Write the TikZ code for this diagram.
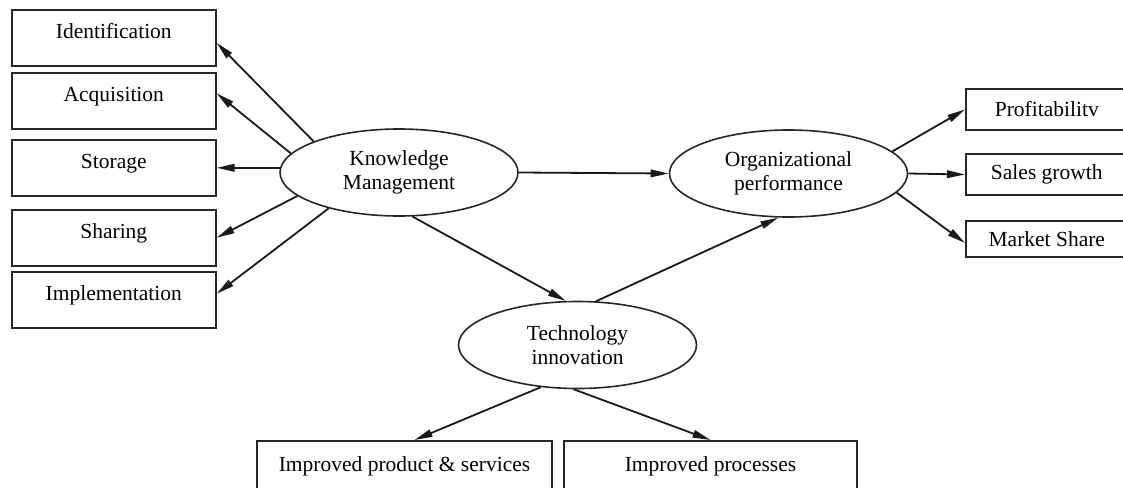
\documentclass[tikz,border=0pt]{standalone}
\usepackage{fontspec}
\setmainfont{Liberation Serif}
\usetikzlibrary{arrows.meta,shapes.geometric}
\begin{document}
\begin{tikzpicture}[x=1pt,y=-1pt,
  txt/.style={font=\fontsize{21.5}{23.5}\selectfont},
  lbox/.style={txt,draw=black!85,line width=1.6pt,rectangle,inner sep=0pt,
    minimum width=204pt,text height=29pt,text depth=27pt,anchor=north west},
  rbox/.style={txt,draw=black!85,line width=1.6pt,rectangle,inner sep=0pt,
    minimum width=210pt,anchor=west},
  bbox/.style={txt,draw=black!85,line width=1.6pt,rectangle,inner sep=0pt,
    text height=31pt,text depth=40pt,anchor=north},
  oval/.style={txt,draw=black!85,line width=1.6pt,ellipse,inner sep=0pt,
    minimum width=238pt,minimum height=87pt,align=center},
  arr/.style={line width=1.8pt,black!90,-{Triangle[length=18pt,width=7.5pt]}}]
\useasboundingbox (0,0) rectangle (1123,487);
\clip (0,0) rectangle (1123,487);

% left boxes
\node[lbox] (ident) at (11,9)   {Identification};
\node[lbox] (acq)   at (11,72)  {Acquisition};
\node[lbox] (stor)  at (11,139) {Storage};
\node[lbox] (shar)  at (11,209) {Sharing};
\node[lbox] (impl)  at (11,271) {Implementation};

% ellipses
\node[oval] (km)   at (399,172.5) {Knowledge\\Management};
\node[oval] (org)  at (788.5,173.5) {Organizational\\performance};
\node[oval] (tech) at (577.5,345) {Technology\\innovation};

% right boxes
\node[rbox,minimum height=41pt] (prof) at (965,109.5) {\hspace*{-48pt}Profitabilitv};
\node[rbox,minimum height=41pt] (sales) at (965,174.5) {\hspace*{-48pt}Sales growth};
\node[rbox,minimum height=36pt] (mkt) at (965,239) {\hspace*{-48pt}Market Share};

% bottom boxes
\node[bbox,minimum width=295pt] (prod) at (404.5,440) {Improved product \& services};
\node[bbox,minimum width=293pt] (proc) at (710.5,440) {Improved processes};

% connectors
\draw[arr] (km.160) -- ([yshift=-5pt]ident.east);
\draw[arr] (km.170) -- ([yshift=7.5pt]acq.east);
\draw[arr] ([xshift=1.5pt]km.west |- stor.east) -- (stor.east);
\draw[arr] (km.193) -- (shar.east);
\draw[arr] (km.207) -- ([yshift=6pt]impl.east);

\draw[arr] (km.east) -- (org.west);
\draw[arr] (km.287) -- (tech.105);
\draw[arr] (tech.67) -- (org.257);

\draw[arr] (org.12) -- (prof.west);
\draw[arr] (org.east) -- (sales.west);
\draw[arr] (org.350) -- ([yshift=-4pt]mkt.west);

\draw[arr] (tech.229) -- ([xshift=10pt]prod.north);
\draw[arr] (tech.265) -- (proc.north);
\end{tikzpicture}
\end{document}
